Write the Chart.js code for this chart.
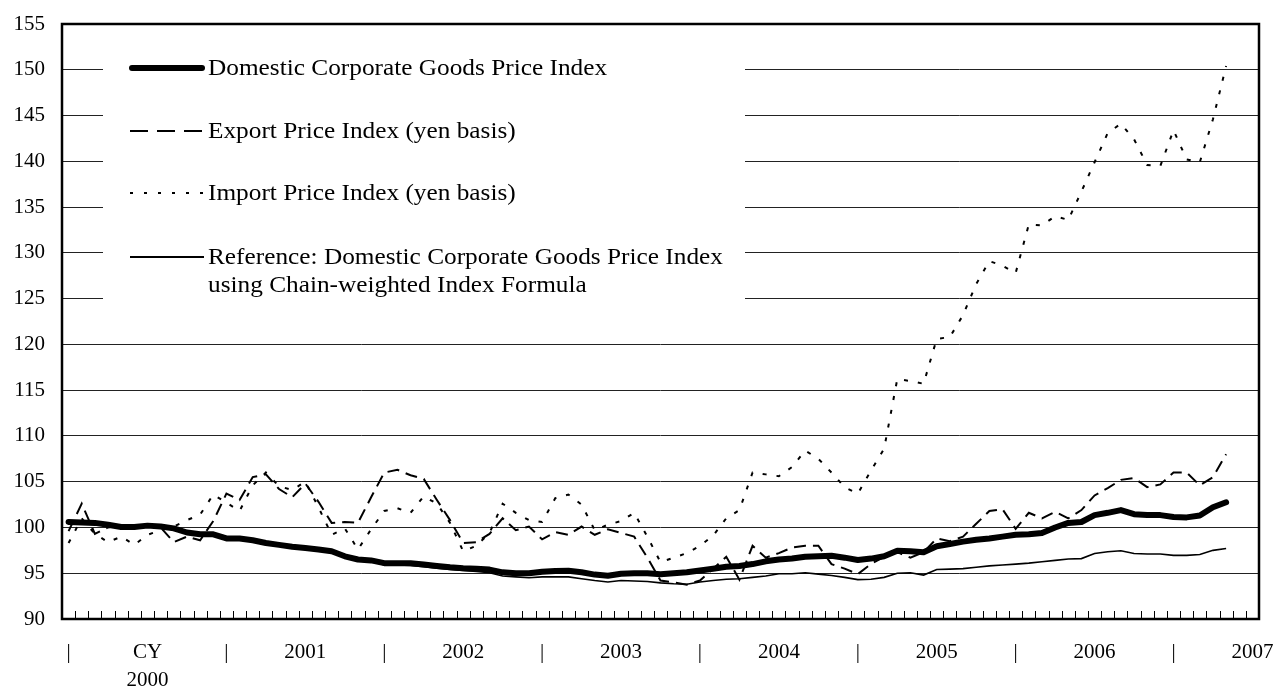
<!DOCTYPE html>
<html>
<head>
<meta charset="utf-8">
<script src="https://cdn.jsdelivr.net/npm/chart.js@4.4.1/dist/chart.umd.min.js"></script>
<style>
  html, body { margin: 0; padding: 0; background: #ffffff; }
  #wrap { width: 1275px; height: 688px; }
</style>
</head>
<body>
<div id="wrap"><canvas id="c" width="1275" height="688"></canvas></div>
<script>
// ---- data (monthly, Jan 2000 .. May 2007) ----
const yearLabels = [['CY', '2000'], '2001', '2002', '2003', '2004', '2005', '2006', '2007'];
const categoryCount = 91;

const domesticCGPI = [
  100.6, 100.55, 100.5, 100.3, 100.05, 100.05, 100.2, 100.1, 99.9, 99.45, 99.25, 99.25,
  98.8, 98.8, 98.6, 98.3, 98.1, 97.9, 97.75, 97.6, 97.4, 96.85, 96.5, 96.4,
  96.1, 96.1, 96.1, 95.95, 95.8, 95.65, 95.55, 95.5, 95.4, 95.1, 95.0, 95.0,
  95.15, 95.25, 95.27, 95.1, 94.85, 94.73, 94.95, 95.0, 95.0, 94.9, 95.0, 95.1,
  95.3, 95.5, 95.7, 95.8, 96.0, 96.3, 96.5, 96.6, 96.8, 96.85, 96.9, 96.7,
  96.45, 96.6, 96.85, 97.45, 97.4, 97.3, 97.95, 98.2, 98.45, 98.65, 98.8, 99.0,
  99.2, 99.25, 99.4, 100.0, 100.5, 100.6, 101.35, 101.6, 101.9, 101.45, 101.35, 101.35,
  101.15, 101.1, 101.3, 102.2, 102.75
];

const exportPI = [
  99.6, 102.6, 99.3, 100.0, 100.3, 100.1, 100.1, 100.0, 98.4, 99.0, 98.6, 100.7,
  103.7, 103.0, 105.5, 105.8, 104.2, 103.3, 104.8, 102.8, 100.5, 100.6, 100.5, 103.3,
  106.0, 106.3, 105.7, 105.3, 103.0, 100.8, 98.3, 98.4, 99.3, 101.0, 99.7, 100.1,
  98.7, 99.5, 99.2, 100.1, 99.2, 99.8, 99.4, 99.0, 96.7, 94.2, 94.0, 93.75,
  94.2, 95.5, 96.8, 94.3, 98.0, 96.7, 97.2, 97.8, 98.0, 98.0, 96.0, 95.5,
  94.9, 96.0, 96.8, 97.3, 96.7, 97.3, 98.8, 98.5, 99.0, 100.4, 101.8, 102.0,
  99.85, 101.6, 101.0, 101.7, 101.0, 101.9, 103.5, 104.3, 105.2, 105.4, 104.4, 104.7,
  106.0, 106.0, 104.6, 105.5, 108.0
];

const importPI = [
  98.3, 101.0, 99.3, 98.4, 99.0, 98.1, 99.2, 99.7, 100.1, 100.8, 101.4, 103.6,
  102.7, 101.8, 104.6, 106.0, 104.5, 104.1, 105.0, 102.2, 99.2, 99.9, 97.6, 99.8,
  101.8, 102.1, 101.6, 103.4, 102.6, 100.5, 97.4, 98.0, 99.4, 102.6, 101.6, 100.8,
  100.6, 103.2, 103.6, 102.5, 99.7, 100.3, 100.7, 101.6, 99.0, 96.2, 96.7, 97.2,
  98.0, 99.1, 101.0, 101.9, 106.0, 105.8, 105.6, 106.6, 108.4, 107.5, 106.0, 104.4,
  103.7, 106.2, 108.6, 116.2, 116.0, 115.7, 120.6, 120.8, 123.2, 126.6, 129.1, 128.6,
  127.8, 133.1, 133.0, 134.0, 133.6, 136.7, 139.9, 143.1, 144.1, 142.4, 139.6, 139.5,
  143.4, 140.2, 139.9, 144.6, 150.4
];

const chainCGPI = [
  100.6, 100.55, 100.5, 100.3, 100.05, 100.05, 100.2, 100.1, 99.9, 99.45, 99.25, 99.25,
  98.8, 98.7, 98.5, 98.2, 98.0, 97.8, 97.65, 97.5, 97.3, 96.75, 96.4, 96.3,
  95.9, 95.9, 95.85, 95.7, 95.55, 95.4, 95.3, 95.2, 95.05, 94.7, 94.6, 94.5,
  94.6, 94.6, 94.6, 94.4, 94.2, 94.05, 94.2, 94.15, 94.1, 93.95, 93.85, 93.8,
  94.05, 94.2, 94.35, 94.4, 94.55, 94.7, 94.95, 94.95, 95.05, 94.9, 94.75, 94.55,
  94.3, 94.35, 94.55, 95.0, 95.05, 94.8, 95.4, 95.45, 95.5, 95.65, 95.8, 95.9,
  96.0, 96.1, 96.25, 96.4, 96.55, 96.6, 97.15, 97.35, 97.45, 97.15, 97.1, 97.1,
  96.95, 96.95, 97.05, 97.5, 97.7
];

const seriesNames = [
  ['Domestic Corporate Goods Price Index'],
  ['Export Price Index (yen basis)'],
  ['Import Price Index (yen basis)'],
  ['Reference: Domestic Corporate Goods Price Index', 'using Chain-weighted Index Formula']
];

// ---- build category labels ----
const categories = [];
for (let i = 0; i < categoryCount; i++) {
  if (i % 12 === 6) categories.push(yearLabels[(i - 6) / 12]);
  else if (i % 12 === 0) categories.push('|');
  else categories.push('');
}

const FONT = '"Liberation Serif", "Times New Roman", serif';
const FS = 21;

const legendBoxPlugin = {
  id: 'legendBox',
  beforeDatasetsDraw(chart) {
    const ctx = chart.ctx;
    ctx.save();
    ctx.fillStyle = '#ffffff';
    ctx.fillRect(103, 40, 642, 278);
    const rows = [68, 131, 193, 257];
    const styles = [
      { w: 6, dash: [], cap: 'round' },
      { w: 2, dash: [18, 9], cap: 'butt' },
      { w: 2, dash: [3, 11], cap: 'butt' },
      { w: 2, dash: [], cap: 'butt' }
    ];
    ctx.strokeStyle = '#000';
    for (let k = 0; k < 4; k++) {
      const s = styles[k];
      ctx.beginPath();
      ctx.lineWidth = s.w;
      ctx.lineCap = s.cap;
      ctx.setLineDash(s.dash);
      ctx.moveTo(k === 0 ? 132 : 130, rows[k]);
      ctx.lineTo(k === 0 ? 202 : 204, rows[k]);
      ctx.stroke();
    }
    ctx.setLineDash([]);
    ctx.fillStyle = '#000';
    ctx.font = '23px ' + FONT;
    ctx.textBaseline = 'middle';
    ctx.textAlign = 'left';
    for (let k = 0; k < 4; k++) {
      seriesNames[k].forEach((t, j) => {
        ctx.save();
        ctx.translate(208, rows[k] + 1 + j * 28);
        ctx.scale(1.1, 1);
        ctx.fillText(t, 0, 0);
        ctx.restore();
      });
    }
    ctx.restore();
  }
};

const framePlugin = {
  id: 'frame',
  afterDatasetsDraw(chart) {
    const ctx = chart.ctx;
    const a = chart.chartArea;
    const xs = chart.scales.x;
    ctx.save();
    ctx.strokeStyle = '#000';
    ctx.lineWidth = 1;
    ctx.beginPath();
    for (let i = 1; i < categoryCount; i++) {
      const x = Math.round((xs.getPixelForValue(i - 1) + xs.getPixelForValue(i)) / 2) + 0.5;
      ctx.moveTo(x, a.bottom);
      ctx.lineTo(x, a.bottom - 8);
    }
    ctx.stroke();
    ctx.lineWidth = 2.5;
    ctx.strokeRect(a.left, a.top, a.right - a.left, a.bottom - a.top);
    ctx.restore();
  }
};

new Chart(document.getElementById('c'), {
  type: 'line',
  data: {
    labels: categories,
    datasets: [
      { label: seriesNames[0].join(' '), data: domesticCGPI, borderColor: '#000', borderWidth: 6,
        borderCapStyle: 'round', borderJoinStyle: 'round', order: 0 },
      { label: seriesNames[1].join(' '), data: exportPI, borderColor: '#000', borderWidth: 2,
        borderDash: [12, 7], order: 2 },
      { label: seriesNames[2].join(' '), data: importPI, borderColor: '#000', borderWidth: 2,
        borderDash: [4, 10], order: 3 },
      { label: seriesNames[3].join(' '), data: chainCGPI, borderColor: '#000', borderWidth: 1.6,
        order: 1 }
    ]
  },
  options: {
    responsive: false,
    animation: false,
    devicePixelRatio: 1,
    layout: { padding: { top: 24, right: 16, left: 0, bottom: 0 } },
    elements: { point: { radius: 0 }, line: { tension: 0, fill: false } },
    plugins: { legend: { display: false }, tooltip: { enabled: false } },
    scales: {
      x: {
        type: 'category',
        offset: true,
        grid: { display: false, drawTicks: false },
        border: { display: false },
        afterFit(s) { s.height = 69; s.paddingLeft = 0; s.paddingRight = 0; },
        ticks: {
          autoSkip: false, maxRotation: 0, minRotation: 0, padding: 19,
          color: '#000', font: { family: FONT, size: FS, lineHeight: 1.35 }
        }
      },
      y: {
        min: 90, max: 155,
        afterFit(s) { s.width = 62; s.paddingTop = 0; s.paddingBottom = 0; },
        grid: { color: '#222', lineWidth: 1, drawTicks: false },
        border: { display: false },
        ticks: { stepSize: 5, padding: 17, color: '#000', font: { family: FONT, size: FS } }
      }
    }
  },
  plugins: [legendBoxPlugin, framePlugin]
});
</script>
</body>
</html>
